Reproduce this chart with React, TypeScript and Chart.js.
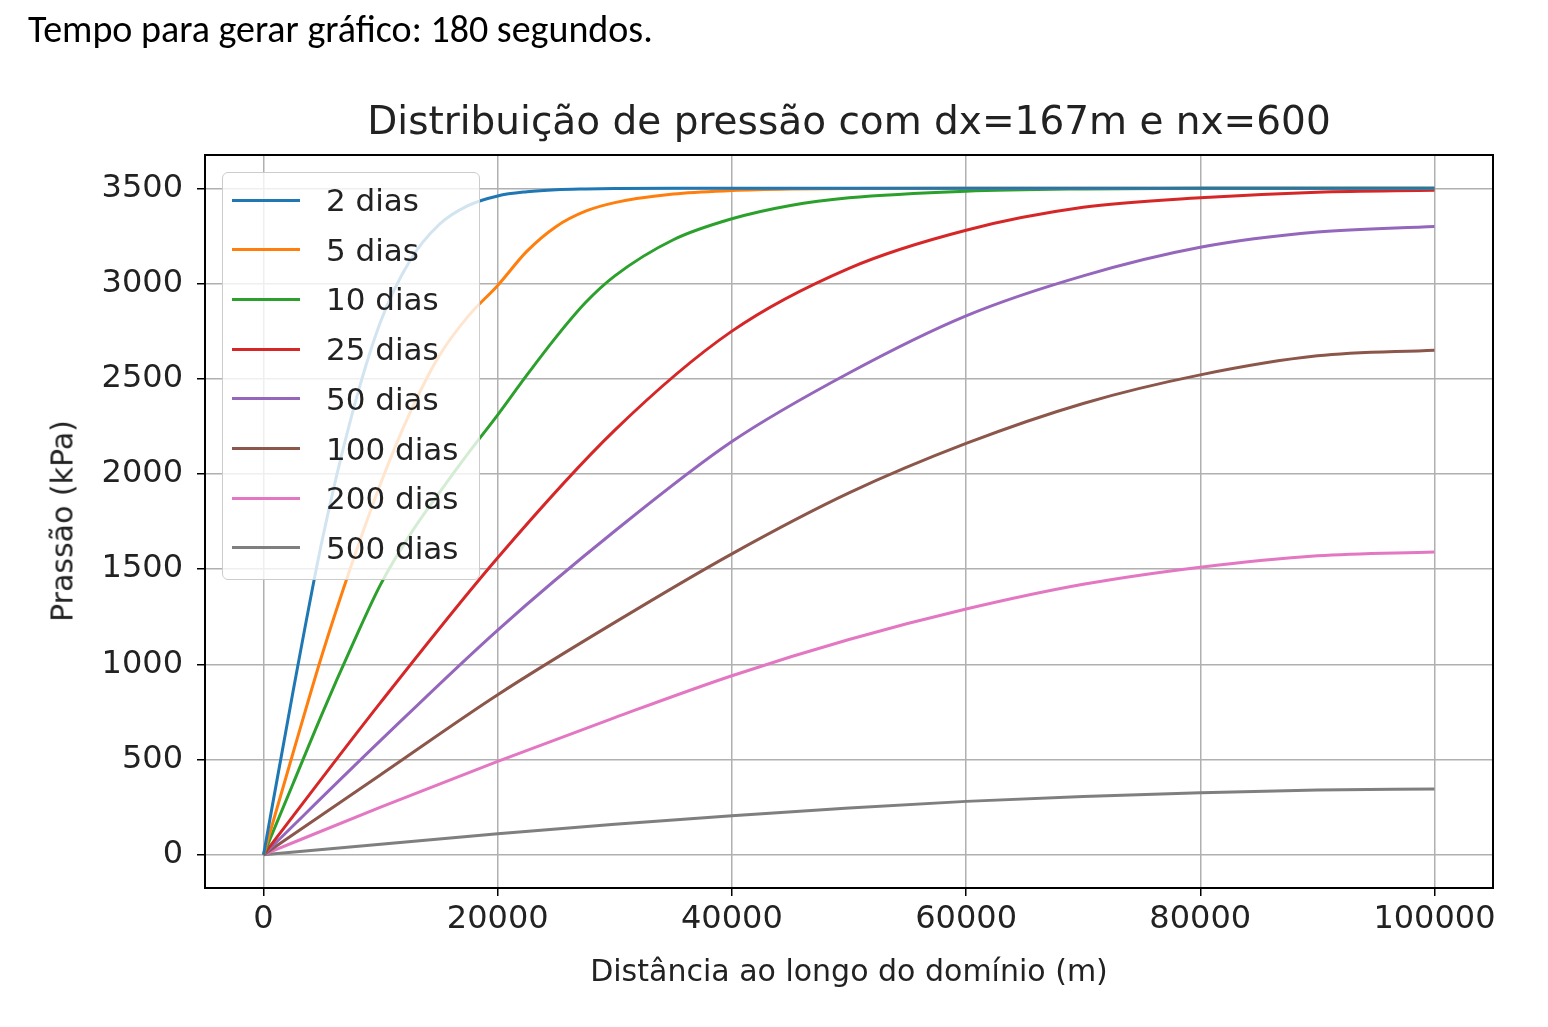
import { useEffect, useRef } from "react";
import { Chart, registerables } from "chart.js";

Chart.register(...registerables);

const seriesLabels = ["2 dias", "5 dias", "10 dias", "25 dias", "50 dias", "100 dias", "200 dias", "500 dias"];
const seriesColors = ["#1f77b4", "#ff7f0e", "#2ca02c", "#d62728", "#9467bd", "#8c564b", "#e377c2", "#7f7f7f"];

const fineX = [0, 2500, 5000, 7500, 10000, 12500, 15000, 17500, 20000, 22500, 25000, 27500, 30000, 35000, 40000, 45000, 50000, 60000, 70000, 80000, 90000, 100000];
const coarseX = [0, 10000, 20000, 30000, 40000, 50000, 60000, 70000, 80000, 90000, 100000];

const dias2 = [0, 850, 1650, 2300, 2800, 3120, 3310, 3410, 3460, 3482, 3493, 3497, 3499, 3500, 3500, 3500, 3500, 3500, 3500, 3500, 3500, 3500];
const dias5 = [0, 530, 1050, 1520, 1950, 2320, 2620, 2830, 2990, 3170, 3300, 3380, 3425, 3470, 3488, 3496, 3499, 3500, 3500, 3500, 3500, 3500];
const dias10 = [0, 370, 740, 1090, 1420, 1680, 1900, 2110, 2310, 2520, 2720, 2900, 3040, 3230, 3340, 3410, 3450, 3485, 3497, 3500, 3500, 3500];
const dias25 = [0, 800, 1560, 2230, 2750, 3080, 3280, 3400, 3450, 3480, 3490];
const dias50 = [0, 600, 1180, 1700, 2170, 2530, 2830, 3040, 3190, 3270, 3300];
const dias100 = [0, 420, 840, 1220, 1580, 1900, 2160, 2370, 2520, 2620, 2650];
const dias200 = [0, 250, 490, 720, 940, 1130, 1290, 1420, 1510, 1570, 1590];
const dias500 = [0, 55, 110, 160, 205, 245, 280, 305, 325, 340, 345];

const seriesX = [fineX, fineX, fineX, coarseX, coarseX, coarseX, coarseX, coarseX];
const seriesY = [dias2, dias5, dias10, dias25, dias50, dias100, dias200, dias500];

const xTicks = [0, 20000, 40000, 60000, 80000, 100000];
const yTicks = [0, 500, 1000, 1500, 2000, 2500, 3000, 3500];

const FONT = "'DejaVu Sans', sans-serif";

export default function App() {
  const canvasRef = useRef<HTMLCanvasElement | null>(null);

  useEffect(() => {
    if (!canvasRef.current) return;
    const frame = {
      id: "frame",
      afterDraw(chart: Chart) {
        const { ctx, chartArea: a } = chart;
        ctx.save();
        ctx.strokeStyle = "#000";
        ctx.lineWidth = 2;
        ctx.strokeRect(a.left, a.top, a.right - a.left, a.bottom - a.top);
        ctx.restore();
      },
    };
    const chart = new Chart(canvasRef.current, {
      type: "line",
      data: {
        datasets: seriesLabels.map((label, i) => ({
          label,
          data: seriesX[i].map((x, j) => ({ x, y: seriesY[i][j] })),
          borderColor: seriesColors[i],
          borderWidth: 3,
          pointRadius: 0,
          cubicInterpolationMode: "monotone" as const,
        })),
      },
      options: {
        animation: false,
        responsive: false,
        layout: { padding: { top: 155, right: 55, left: 0, bottom: 0 } },
        plugins: { legend: { display: false }, tooltip: { enabled: false } },
        scales: {
          x: {
            type: "linear",
            min: -5000,
            max: 105000,
            afterBuildTicks: (s: any) => { s.ticks = xTicks.map((value) => ({ value })); },
            afterFit: (s: any) => { s.height = 139; },
            grid: { color: "#b0b0b0", lineWidth: 1.5, tickColor: "#000", tickLength: 8 },
            border: { display: false },
            ticks: { color: "#222", font: { family: FONT, size: 32 }, padding: 4, callback: (v: any) => String(v), maxRotation: 0 },
          },
          y: {
            type: "linear",
            min: -175,
            max: 3675,
            afterBuildTicks: (s: any) => { s.ticks = yTicks.map((value) => ({ value })); },
            afterFit: (s: any) => { s.width = 205; },
            grid: { color: "#b0b0b0", lineWidth: 1.5, tickColor: "#000", tickLength: 8 },
            border: { display: false },
            ticks: { color: "#222", font: { family: FONT, size: 32 }, padding: 14, callback: (v: any) => String(v) },
          },
        },
      },
      plugins: [frame],
    });
    return () => chart.destroy();
  }, []);

  return (
    <div style={{ position: "absolute", left: 0, top: 0, width: 1548, height: 1027, background: "#fff" }}>
      <canvas ref={canvasRef} width={1548} height={1027} style={{ position: "absolute", left: 0, top: 0 }} />
      <div style={{ position: "absolute", left: 28, top: 6, fontFamily: "Carlito, 'Open Sans', sans-serif", fontSize: 38, color: "#000" }}>
        Tempo para gerar gráfico: 180 segundos.
      </div>
      <div style={{ position: "absolute", left: 205, width: 1288, top: 98, textAlign: "center", fontFamily: FONT, fontSize: 39, color: "#222" }}>
        Distribuição de pressão com dx=167m e nx=600
      </div>
      <div style={{ position: "absolute", left: 205, width: 1288, top: 953, textAlign: "center", fontFamily: FONT, fontSize: 30, color: "#222" }}>
        Distância ao longo do domínio (m)
      </div>
      <div style={{ position: "absolute", left: 62, top: 521, width: 0, height: 0 }}>
        <div style={{ position: "absolute", transform: "translate(-50%, -50%) rotate(-90deg)", whiteSpace: "nowrap", fontFamily: FONT, fontSize: 30, color: "#222" }}>
          Prassão (kPa)
        </div>
      </div>
      <div style={{ position: "absolute", left: 222, top: 172, width: 258, height: 408, boxSizing: "border-box", border: "1.5px solid #ccc", borderRadius: 6, background: "rgba(255,255,255,0.8)" }}>
        {seriesLabels.map((label, i) => (
          <div key={label} style={{ position: "absolute", left: 9, top: 7 + i * 49.7, height: 40, display: "flex", alignItems: "center" }}>
            <span style={{ display: "inline-block", width: 68, height: 3, background: seriesColors[i], marginRight: 26 }} />
            <span style={{ fontFamily: FONT, fontSize: 31, color: "#222" }}>{label}</span>
          </div>
        ))}
      </div>
    </div>
  );
}
